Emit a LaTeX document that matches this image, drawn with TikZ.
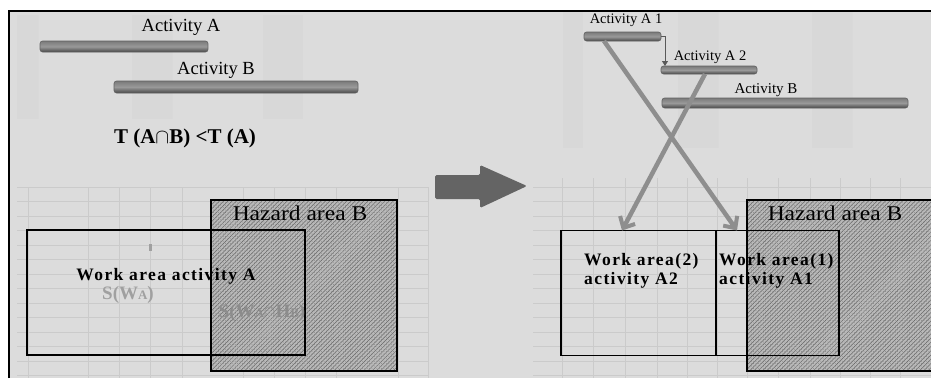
\documentclass[tikz,border=0pt]{standalone}
\usepackage{fontspec}
\setmainfont{Liberation Serif}
\usetikzlibrary{arrows.meta,patterns.meta,calc}
\definecolor{bg}{HTML}{DCDCDC}
\definecolor{gridc}{HTML}{CBCBCB}
\definecolor{blockc}{HTML}{646464}
\definecolor{arrg}{HTML}{8E8E8E}
\definecolor{txtg}{HTML}{A0A0A0}
\begin{document}
\begin{tikzpicture}[x=1pt,y=-1pt,
  gridline/.style={draw=gridc,line width=0.7pt},
  stipple/.style={fill=black!11,pattern={Dots[distance=2pt,radius=0.4pt]},pattern color=black!32},
  bar/.style={draw=black!62,line width=0.6pt,rounded corners=2.5pt,top color=black!52,bottom color=black!72,middle color=black!40,inner sep=0pt,outer sep=0pt},
  hazard/.style={draw=black,line width=1.4pt,inner sep=0pt,outer sep=0pt},
  hatch/.style={pattern={Lines[angle=45,distance=3pt,line width=0.5pt]},pattern color=black!58},
  speck/.style={pattern={Dots[distance=2.4pt,radius=0.3pt]},pattern color=black!65},
  workarea/.style={draw=black,line width=1.4pt,inner sep=0pt,outer sep=0pt},
  actlabel/.style={inner sep=0pt,font=\fontsize{18.5}{21}\selectfont},
  smalllabel/.style={inner sep=0pt,font=\fontsize{14.5}{16}\selectfont},
  hazlabel/.style={inner sep=0pt,text=black,font=\fontsize{21}{24}\selectfont},
  worklabel/.style={inner sep=0pt,font=\fontsize{17.5}{19}\selectfont\bfseries\addfontfeature{LetterSpace=8}},
  graylabel/.style={inner sep=0pt,text=txtg,font=\fontsize{19}{21}\selectfont\bfseries},
  bigarrow/.style={draw=arrg,line width=4.5pt,-{Straight Barb[length=9pt,width=17pt,line width=4pt]}},
  smallarr/.style={draw=black!65,line width=0.8pt,-{Triangle[length=5pt,width=6pt]}}
]
\useasboundingbox (0,0) rectangle (931,378);
\clip (0,0) rectangle (931,378);
% frame and background
\fill[white] (0,0) rectangle (931,378);
\fill[bg] (9,11) rectangle (931,378);
% grids
\foreach \x in {28,88,119,150,182,243,274,305,336,398,428}
  \draw[gridline] (\x,187) -- (\x,378);
\foreach \y in {187,201.5,...,378}
  \draw[gridline] (17,\y) -- (428,\y);
\foreach \x in {562,593,625,657,687,717,747,778,810,840,870,900}
  \draw[gridline] (\x,178) -- (\x,378);
\foreach \y in {187,201.5,...,378}
  \draw[gridline] (533,\y) -- (931,\y);
% stipple bands
\foreach \a/\b in {17/38,132/172,263/303}
  \fill[stipple] (\a,15) rectangle (\b,118);
\foreach \a/\b in {563/583,678/718,812/852}
  \fill[stipple] (\a,12) rectangle (\b,147);
% hazard areas
\node[hazard,fill=black!27,minimum width=186pt,minimum height=171pt] (hzL) at (304,285.5) {};
\fill[hatch] (hzL.north west) rectangle (hzL.south east);
\fill[speck] (hzL.north west) rectangle (hzL.south east);
\node[hazard,fill=black!27,minimum width=203pt,minimum height=171pt] (hzR) at (848.5,285.5) {};
\fill[hatch] (hzR.north west) rectangle (hzR.south east);
\fill[speck] (hzR.north west) rectangle (hzR.south east);
\draw[line width=1.4pt] (hzL.north west) rectangle (hzL.south east);
\draw[line width=1.4pt] (hzR.north west) rectangle (hzR.south east);
\node[hazlabel] (hzLt) at (300,213) {\scalebox{1.12}[1]{Hazard area B}};
\node[hazlabel] (hzRt) at (835,213) {\scalebox{1.12}[1]{Hazard area B}};
% work areas
\node[workarea,minimum width=278pt,minimum height=125pt] (waL) at (166,292.5) {};
\node[workarea,minimum width=155pt,minimum height=125pt] (wa2) at (638.5,293) {};
\node[workarea,minimum width=123pt,minimum height=125pt] (wa1) at (777.5,293) {};
\fill[txtg] (149,244) rectangle (152,251);
% left texts
\node[actlabel] (labA) at (181,27) {Activity A};
\node[bar,minimum width=168pt,minimum height=11pt] (barA) at (124,46.5) {};
\node[actlabel] (labB) at (216,70) {Activity B};
\node[bar,minimum width=244pt,minimum height=12pt] (barB) at (236,87) {};
\node[inner sep=0pt,font=\fontsize{21}{24}\selectfont\bfseries] (labT) at (185,138) {T (A$\mathbf{\cap}$B) <T (A)};
\node[worklabel] (waLt) at (166,276) {Work area activity A};
\node[graylabel] (sW) at (128,295) {S(W{\fontsize{13}{14}\selectfont A})};
\node[graylabel,text=black!45] (sWH) at (262,313) {S(W{\fontsize{13}{14}\selectfont A}$\cap$H{\fontsize{13}{14}\selectfont B})};
% right bars
\node[smalllabel] (labA1) at (626,20) {Activity A 1};
\node[bar,minimum width=77pt,minimum height=9pt] (barA1) at (622.5,36.5) {};
\node[smalllabel] (labA2) at (710,57) {Activity A 2};
\node[bar,minimum width=96pt,minimum height=8pt] (barA2) at (709,70) {};
\node[smalllabel,font=\fontsize{15}{16}\selectfont] (labBr) at (766,90) {Activity B};
\node[bar,minimum width=246pt,minimum height=10pt] (barBr) at (785,103) {};
\draw[smallarr] (barA1.east) -| ([xshift=4pt]barA2.north west);
% work area texts right
\node[worklabel,anchor=west,align=left] (wa2t) at (584,271) {Work area(2)\\[0pt]activity A2};
\node[worklabel,anchor=west,align=left] (wa1t) at (719,271) {Work area(1)\\[0pt]activity A1};
% connectors
\draw[bigarrow] ([xshift=20pt]barA1.south west) -- ([xshift=21pt]wa1.north west);
\draw[bigarrow] ([xshift=44pt]barA2.south west) -- ([xshift=61pt]wa2.north west);
% block arrow
\fill[blockc,rounded corners=1.5pt] (435,175) -- (480,175) -- (480,165) -- (527,186) -- (480,208) -- (480,199) -- (435,199) -- cycle;
% frame lines
\draw[line width=2.4pt] (9,378) -- (9,11) -- (931,11);
\end{tikzpicture}
\end{document}
